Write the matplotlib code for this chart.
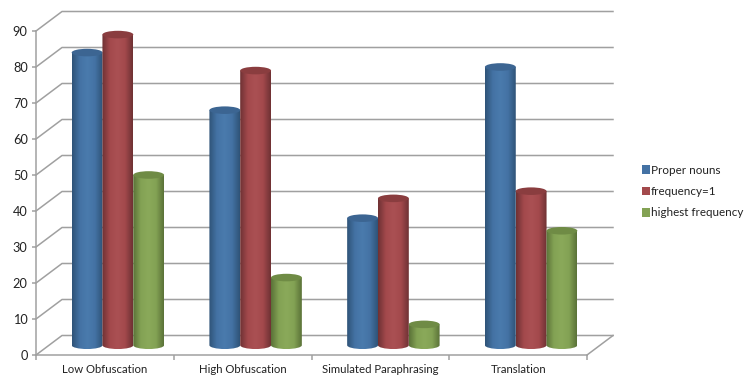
import numpy as np
import matplotlib
matplotlib.use("Agg")
import matplotlib.pyplot as plt
from matplotlib.colors import LinearSegmentedColormap
from matplotlib.patches import Ellipse, PathPatch, Patch
from matplotlib.path import Path

plt.rcParams['font.family'] = ['Lato', 'DejaVu Sans']

categories = ["Low Obfuscation", "High Obfuscation", "Simulated Paraphrasing", "Translation"]
proper_nouns = [81.5, 65.5, 35.5, 77.5]
frequency_one = [86.5, 76.5, 41, 43]
highest_frequency = [47.5, 19, 6, 32]
series_names = ["Proper nouns", "frequency=1", "highest frequency"]
y_ticks = [0, 10, 20, 30, 40, 50, 60, 70, 80, 90]

# legend colour, edge shade, highlight, top cap
palette = [
    ("#4472a4", "#2f5378", "#4a7bad", "#3c6592"),
    ("#a3494c", "#6f3234", "#aa5053", "#8a3d3f"),
    ("#83a254", "#5b7338", "#8aa95a", "#6f8b45"),
]

W, H = 745, 379
fig = plt.figure(figsize=(W / 100, H / 100), dpi=100)
# front plane of the box, in figure fractions
left, right, top, bottom = 36, 587, 31, 355
ax = fig.add_axes([left / W, 1 - bottom / H, (right - left) / W, (bottom - top) / H])
ax.set_xlim(0, 4)
ax.set_ylim(0, 90)

# depth of the box in data units
dx = 26 / 137.75
dy = 19.5 / 3.6
grid = "#a0a0a0"

for t in y_ticks:
    ax.plot([0, dx, 4 + dx], [t, t + dy, t + dy], color=grid, lw=1.1, clip_on=False, zorder=1)
ax.plot([4, 4 + dx], [0, dy], color=grid, lw=1.1, clip_on=False, zorder=1)


def cylinder(x, value, cols):
    w = 0.112
    base = dy / 2
    ry = 1.05
    k = 0.5523
    x0, x1 = x - w, x + w
    y1 = base + value - 0.2
    # outline: lower half ellipse at the base, straight sides, up to the top
    verts = [(x0, y1), (x0, base),
             (x0, base - k * ry), (x - k * w, base - ry), (x, base - ry),
             (x + k * w, base - ry), (x1, base - k * ry), (x1, base),
             (x1, y1), (x0, y1)]
    codes = [Path.MOVETO, Path.LINETO, Path.CURVE4, Path.CURVE4, Path.CURVE4,
             Path.CURVE4, Path.CURVE4, Path.CURVE4, Path.LINETO, Path.CLOSEPOLY]
    flat, edge, light, cap = cols
    cmap = LinearSegmentedColormap.from_list("c", [(0, edge), (0.25, flat), (0.5, light), (0.75, flat), (1, edge)])
    im = ax.imshow(np.linspace(0, 1, 64)[None, :], cmap=cmap, aspect="auto", extent=(x0, x1, base - ry, y1),
                   zorder=3, interpolation="bilinear")
    im.set_clip_path(PathPatch(Path(verts, codes), transform=ax.transData))
    im.set_clip_on(True)
    ax.add_patch(Ellipse((x, y1), 2 * w, 2 * ry, facecolor=cap, edgecolor="none", zorder=3, clip_on=False))


series = [proper_nouns, frequency_one, highest_frequency]
for i in range(len(categories)):
    center = i + 0.5 + dx / 2
    for s, vals in enumerate(series):
        cylinder(center + (s - 1) * 0.2235, vals[i], palette[s])

ax.set_xlim(0, 4)
ax.set_ylim(0, 90)

for side in ("top", "right"):
    ax.spines[side].set_visible(False)
for side in ("left", "bottom"):
    ax.spines[side].set_color(grid)
    ax.spines[side].set_linewidth(1.1)

ax.set_yticks(y_ticks)
ax.set_xticks(range(5))
ax.set_xticklabels([])
ax.set_xticks([i + 0.5 for i in range(4)], minor=True)
ax.set_xticklabels(categories, minor=True)
ax.tick_params(axis="x", which="major", length=3.5, color=grid, width=1.1)
ax.tick_params(axis="x", which="minor", length=0, labelsize=8.2, pad=6.5, labelcolor="#222222")
ax.tick_params(axis="y", length=3, color=grid, width=1.1, labelsize=9.2, pad=3, labelcolor="#222222")

handles = [Patch(facecolor=palette[i][0], label=series_names[i]) for i in range(3)]
fig.legend(handles=handles, loc="upper left", bbox_to_anchor=(638 / W, 1 - 161 / H), frameon=False,
           fontsize=8.4, handlelength=0.72, handleheight=0.72, handletextpad=0.1, labelspacing=0.9,
           labelcolor="#222222", borderpad=0.3, borderaxespad=0)

fig.savefig("out.png", dpi=100)
